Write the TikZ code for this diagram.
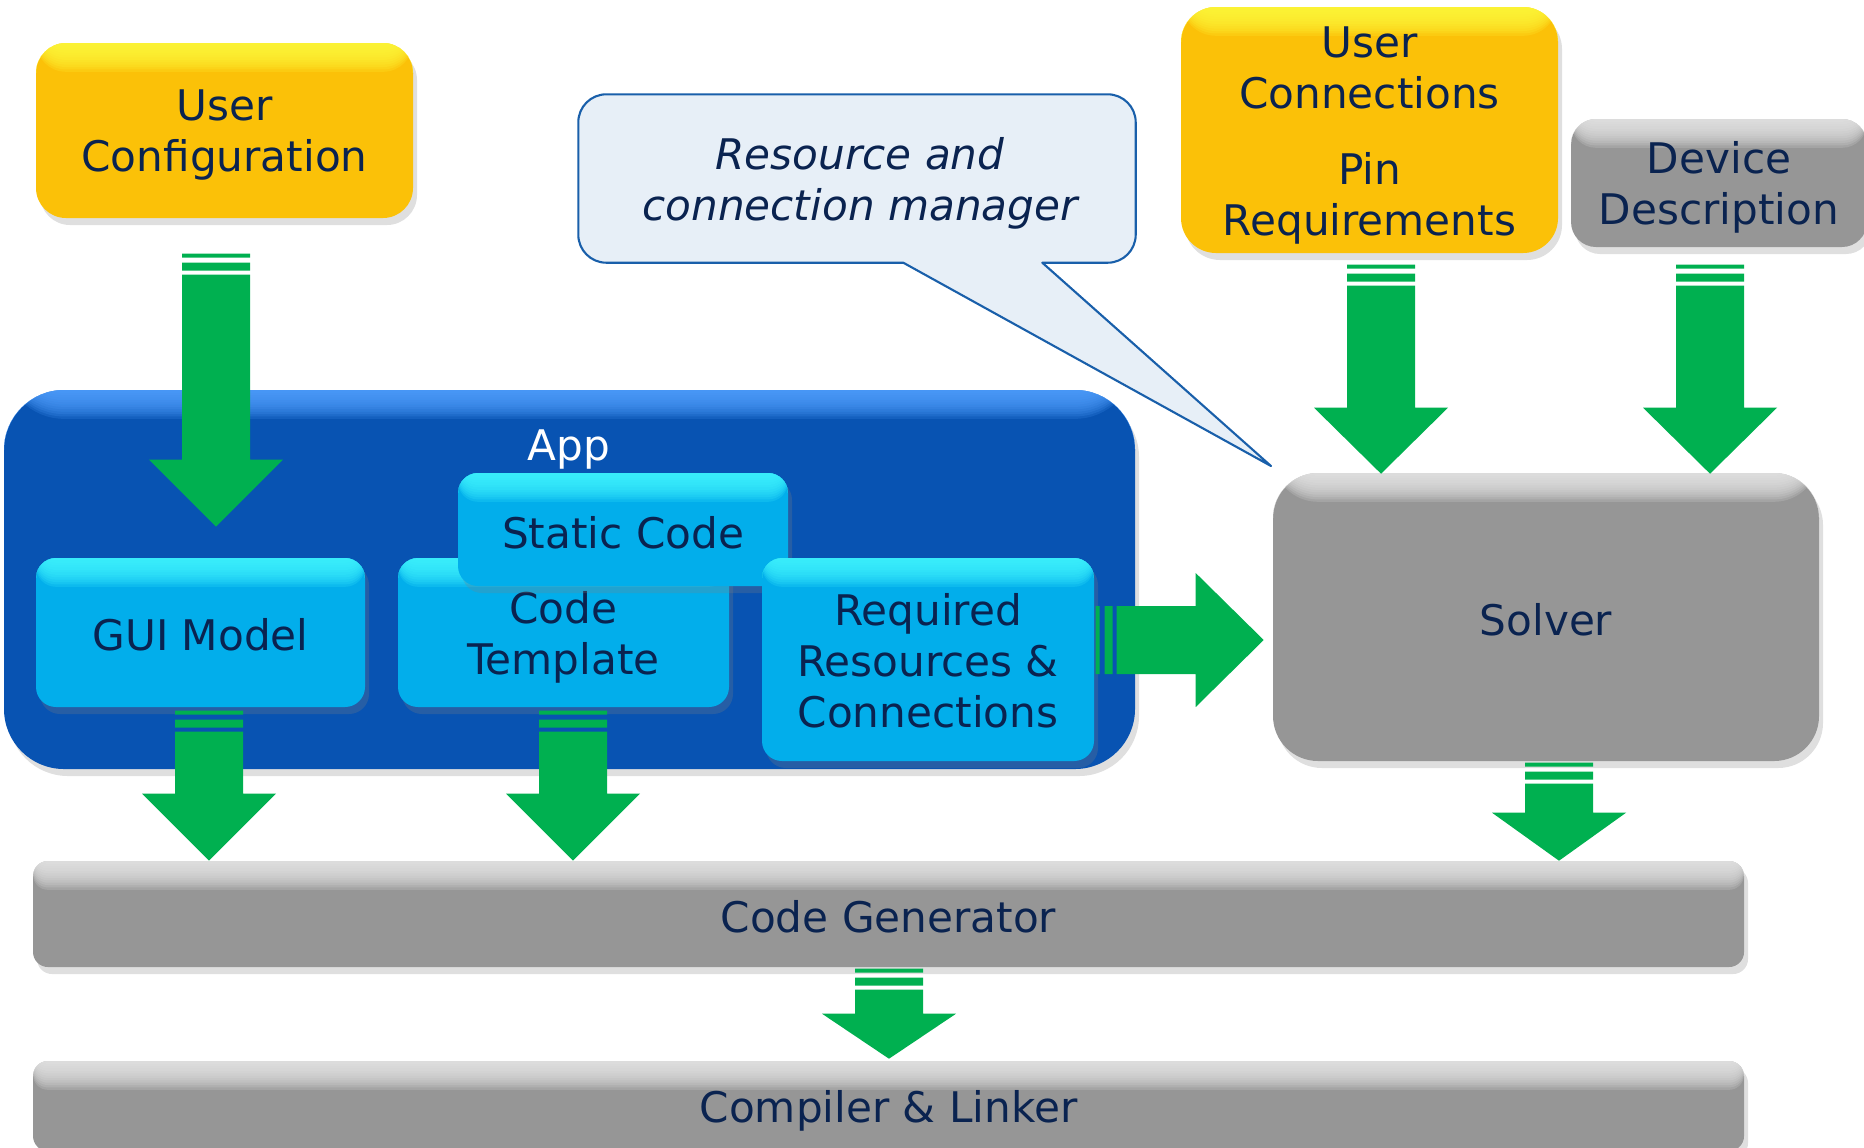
\documentclass[tikz,border=0pt]{standalone}
\usepackage{fontspec}
\setmainfont{DejaVu Sans}
\usetikzlibrary{calc,shadows,backgrounds}
\definecolor{boxyellow}{RGB}{251,193,8}
\definecolor{yellowtop}{RGB}{255,250,60}
\definecolor{boxgray}{RGB}{150,150,150}
\definecolor{graytop}{RGB}{230,230,230}
\definecolor{boxcyan}{RGB}{2,174,235}
\definecolor{cyantop}{RGB}{64,245,255}
\definecolor{appblue}{RGB}{8,83,178}
\definecolor{apptop}{RGB}{80,160,255}
\definecolor{navy}{RGB}{10,35,80}
\definecolor{arrowgreen}{RGB}{0,176,80}
\definecolor{calloutfill}{RGB}{231,239,247}
\definecolor{calloutline}{RGB}{25,95,170}
\tikzset{
	basebox/.style={rounded corners=#1, inner sep=0pt,
		drop shadow={opacity=.25, shadow xshift=.4mm, shadow yshift=-.7mm}},
	basebox/.default=3mm,
	bevel/.style={path picture={\foreach \k in {0,...,11}
		\fill[#1, opacity=.18] (path picture bounding box.north west)
			rectangle ([yshift=-(\k+1)*0.24mm]path picture bounding box.north east);}},
	ybox/.style={basebox=#1, fill=boxyellow, bevel=yellowtop},
	ybox/.default=3mm,
	gbox/.style={basebox=#1, fill=boxgray, bevel=graytop},
	gbox/.default=2.5mm,
	cbox/.style={basebox=2mm, fill=boxcyan, bevel=cyantop},
	boxtext/.style={text=navy, align=center, inner sep=0pt, font=\fontsize{12}{14.5}\selectfont, yshift=-#1},
	boxtext/.default=.45mm,
	callout/.style={draw=calloutline, fill=calloutfill, line width=.6pt, line join=round},
}
% block arrow: [angle]{start}{length}{head length}
\newcommand{\fatarrow}[4][0]{%
	\begin{scope}[shift={(#2)}, rotate=#1]
		\fill[arrowgreen] (-34,0) rectangle (34,4) (-34,9) rectangle (34,17);
		\fill[arrowgreen] (-34,21) -- (34,21) -- (34,#3-#4) -- (67,#3-#4) -- (0,#3)
			-- (-67,#3-#4) -- (-34,#3-#4) -- cycle;
	\end{scope}}
\begin{document}
\begin{tikzpicture}[x=0.1mm, y=-0.1mm]
	\useasboundingbox (0,0) rectangle (1864,1147);
	\clip (0,0) rectangle (1864,1147);
	% inputs
	\node[ybox, minimum width=37.7mm, minimum height=17.5mm] (ucfg) at (224.5,130.5) {};
	\node[boxtext] (ucfg-t) at (ucfg) {User\\Configuration};
	\node[ybox=3.5mm, minimum width=37.7mm, minimum height=24.6mm] (ucon) at (1369.5,130) {};
	\node[boxtext=.55mm] (ucon-t) at (ucon) {User\\Connections\\[2.6mm]Pin\\Requirements};
	\node[gbox, minimum width=29.6mm, minimum height=12.8mm] (dev) at (1719,183) {};
	\node[boxtext] (dev-t) at (dev) {Device\\Description};
	% callout
	\node[minimum width=55.6mm, minimum height=16.7mm] (mgr) at (857,178.5) {};
	\node[boxtext, font=\fontsize{12}{14.5}\selectfont\itshape] (mgr-t) at ($(mgr)+(3,0)$) {Resource and\\connection manager};
	\coordinate (mgr-tip) at (1271,466);
	\begin{scope}[on background layer]
		\draw[callout] ($(mgr.south west)+(464,0)$) [rounded corners=2.8mm] -- (mgr.south east)
			-- (mgr.north east) -- (mgr.north west) -- (mgr.south west) [sharp corners]
			-- ($(mgr.south west)+(325,0)$) -- (mgr-tip) -- cycle;
	\end{scope}
	% app
	\node[basebox=6mm, fill=appblue, bevel=apptop, minimum width=113.1mm, minimum height=37.9mm] (app) at (569.5,579.5) {};
	\node[boxtext=0mm, text=white] (app-t) at (569,449) {App};
	\node[cbox, minimum width=32.9mm, minimum height=14.9mm] (gui) at (200.5,632.5) {};
	\node[boxtext=.25mm] (gui-t) at (gui) {GUI Model};
	\node[cbox, minimum width=33.1mm, minimum height=14.9mm] (tmpl) at (563.5,632.5) {};
	\node[boxtext=.5mm] (tmpl-t) at (tmpl) {Code\\Template};
	\node[cbox, minimum width=33mm, minimum height=11.3mm] (static) at (623,529.5) {};
	\node[boxtext=.3mm] (static-t) at (static) {Static Code};
	\node[cbox, minimum width=33.2mm, minimum height=20.3mm] (req) at (928,659.5) {};
	\node[boxtext=.15mm] (req-t) at (req) {Required\\Resources \&\\Connections};
	% tools
	\node[gbox=4.5mm, minimum width=54.6mm, minimum height=28.8mm] (solver) at (1546,617) {};
	\node[boxtext=.25mm] (solver-t) at (solver) {Solver};
	\node[gbox=1.5mm, minimum width=171.1mm, minimum height=10.6mm] (cgen) at (888.5,914) {};
	\node[boxtext=.25mm] (cgen-t) at (cgen) {Code Generator};
	\node[gbox=1.5mm, minimum width=171.1mm, minimum height=9mm] (comp) at (888.5,1106) {};
	\node[boxtext=.5mm] (comp-t) at (comp) {Compiler \& Linker};
	% arrows
	\coordinate (cfg-out) at ($(ucfg.south)+(-8.5,35)$);
	\coordinate (con-out) at ($(ucon.south)+(11.5,11)$);
	\coordinate (dev-out) at ($(dev.south)+(-9,17)$);
	\coordinate (gui-out) at ($(gui.south)+(8.5,3)$);
	\coordinate (tmpl-out) at ($(tmpl.south)+(9.5,3)$);
	\coordinate (solver-out) at ($(solver.south)+(13,1)$);
	\coordinate (cgen-out) at ($(cgen.south)+(0.5,1)$);
	\coordinate (req-out) at ($(req.east)+(1,-19.5)$);
	\fatarrow{cfg-out}{273}{67}
	\fatarrow{con-out}{209}{66}
	\fatarrow{dev-out}{209}{66}
	\fatarrow{gui-out}{150}{67}
	\fatarrow{tmpl-out}{150}{67}
	\fatarrow{solver-out}{98}{48}
	\fatarrow{cgen-out}{90}{45}
	\fatarrow[90]{req-out}{168}{68}
\end{tikzpicture}
\end{document}
